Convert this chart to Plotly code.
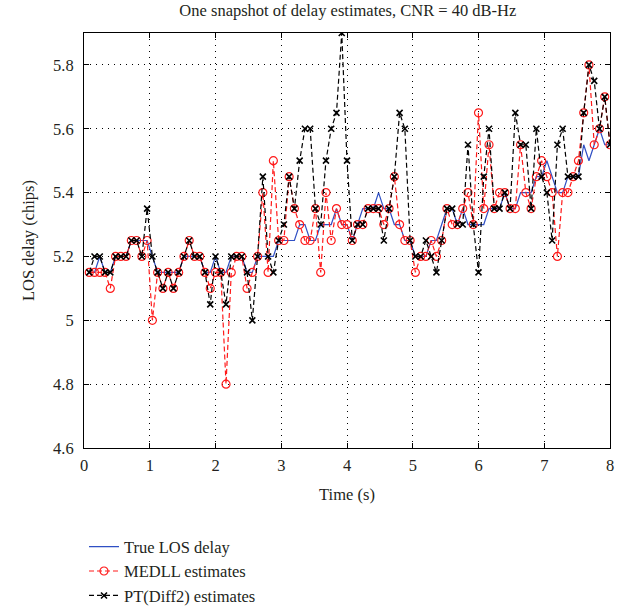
import numpy as np
import plotly.graph_objects as go

# time instants (s): one estimate every 0.08 s
time_s = np.round(np.arange(1, 101) * 0.08, 2)

true_los = [5.15,5.15,5.2,5.15,5.15,5.2,5.2,5.2,5.25,5.25,
            5.25,5.25,5.2,5.15,5.15,5.15,5.15,5.15,5.2,5.2,
            5.2,5.2,5.15,5.15,5.2,5.15,5.15,5.2,5.2,5.2,
            5.15,5.15,5.2,5.2,5.2,5.2,5.25,5.25,5.25,5.25,
            5.3,5.3,5.25,5.25,5.3,5.3,5.3,5.35,5.3,5.3,
            5.25,5.3,5.35,5.35,5.35,5.4,5.35,5.35,5.3,5.3,
            5.25,5.25,5.2,5.2,5.2,5.25,5.25,5.3,5.35,5.35,
            5.3,5.35,5.3,5.3,5.3,5.3,5.35,5.35,5.35,5.4,
            5.35,5.35,5.4,5.4,5.4,5.45,5.45,5.5,5.45,5.4,
            5.4,5.45,5.45,5.45,5.55,5.5,5.55,5.6,5.55,5.55]

medll = [5.15,5.15,5.15,5.15,5.1,5.2,5.2,5.2,5.25,5.25,
         5.2,5.25,5.0,5.15,5.1,5.15,5.1,5.15,5.2,5.25,
         5.2,5.2,5.15,5.1,5.15,5.15,4.8,5.15,5.2,5.2,
         5.1,5.15,5.2,5.4,5.15,5.5,5.25,5.25,5.45,5.35,
         5.3,5.25,5.25,5.35,5.15,5.4,5.25,5.35,5.3,5.3,
         5.25,5.3,5.3,5.35,5.35,5.35,5.3,5.35,5.45,5.3,
         5.25,5.25,5.15,5.2,5.2,5.25,5.2,5.25,5.35,5.3,
         5.3,5.35,5.4,5.3,5.65,5.35,5.55,5.35,5.4,5.4,
         5.35,5.35,5.55,5.4,5.35,5.45,5.5,5.45,5.4,5.2,
         5.4,5.4,5.45,5.5,5.65,5.8,5.55,5.6,5.7,5.55]

pt_diff2 = [5.15,5.2,5.2,5.15,5.15,5.2,5.2,5.2,5.25,5.25,
            5.2,5.35,5.2,5.15,5.1,5.15,5.1,5.15,5.2,5.25,
            5.2,5.2,5.15,5.05,5.2,5.15,5.05,5.2,5.2,5.2,
            5.15,5.0,5.2,5.45,5.2,5.15,5.25,5.3,5.45,5.35,
            5.5,5.6,5.6,5.35,5.3,5.5,5.6,5.65,5.9,5.5,
            5.25,5.3,5.3,5.35,5.35,5.35,5.25,5.35,5.45,5.65,
            5.6,5.25,5.2,5.2,5.25,5.2,5.15,5.25,5.35,5.35,
            5.3,5.3,5.55,5.3,5.15,5.45,5.6,5.35,5.35,5.4,
            5.35,5.65,5.55,5.55,5.35,5.6,5.45,5.4,5.25,5.55,
            5.6,5.45,5.45,5.45,5.65,5.8,5.75,5.6,5.7,5.55]

x_ticks = [0, 1, 2, 3, 4, 5, 6, 7, 8]
y_ticks = [4.6, 4.8, 5.0, 5.2, 5.4, 5.6, 5.8]
y_tick_text = ["4.6", "4.8", "5", "5.2", "5.4", "5.6", "5.8"]

FONT = "Liberation Serif"
TXT = "#231f20"
FS = 16.5

fig = go.Figure()
fig.add_trace(go.Scatter(
    x=time_s, y=true_los, mode="lines", name="True LOS delay",
    line=dict(color="#2f4fc4", width=1.2),
))
fig.add_trace(go.Scatter(
    x=time_s, y=medll, mode="lines+markers", name="MEDLL estimates",
    line=dict(color="#ff1a1a", width=1.2, dash="5px,3px"),
    marker=dict(symbol="circle-open", size=8, color="#ff1a1a", line=dict(width=1.2)),
))
fig.add_trace(go.Scatter(
    x=time_s, y=pt_diff2, mode="lines+markers", name="PT(Diff2) estimates",
    line=dict(color="#000000", width=1.2, dash="5px,3px"),
    marker=dict(symbol="x-thin-open", size=6, color="#000000", line=dict(width=1.6, color="#000000")),
))

axis_common = dict(
    showline=True, linecolor="black", linewidth=1, mirror="ticks",
    ticks="inside", ticklen=5, tickcolor="black",
    showgrid=True, gridcolor="black", gridwidth=0.6, griddash="1px,5px",
    zeroline=False, automargin=False,
    tickfont=dict(family=FONT, size=FS, color=TXT),
)

fig.update_layout(
    width=629, height=613,
    margin=dict(l=84, r=19, t=33, b=165, autoexpand=False),
    paper_bgcolor="white", plot_bgcolor="white",
    title=dict(text="One snapshot of delay estimates, CNR = 40 dB-Hz",
               x=0.553, xanchor="center", y=0.983, yanchor="middle",
               automargin=False,
               font=dict(family=FONT, size=FS, color=TXT)),
    xaxis=dict(range=[0, 8], tickvals=x_ticks, ticklabelstandoff=2,
               title=dict(text="Time (s)", font=dict(family=FONT, size=FS, color=TXT), standoff=14),
               **axis_common),
    yaxis=dict(range=[4.6, 5.9], tickvals=y_ticks, ticktext=y_tick_text, ticklabelstandoff=6,
               title=dict(text="LOS delay (chips)", font=dict(family=FONT, size=FS, color=TXT), standoff=14),
               **axis_common),
    legend=dict(x=0.0, xanchor="left", y=-0.196, yanchor="top",
                font=dict(family=FONT, size=FS, color=TXT),
                bgcolor="rgba(0,0,0,0)", tracegroupgap=0, itemwidth=30),
    showlegend=True,
)

# remove the default 8px page margin so the figure fills the window exactly
fig.write_html("out.html", config={"displayModeBar": False},
               post_script="document.body.style.margin='0';")
